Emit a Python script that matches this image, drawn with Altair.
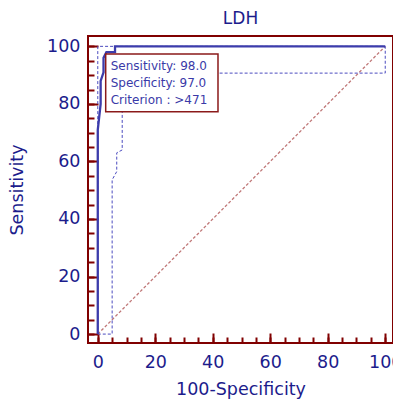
import altair as alt
import pandas as pd

# ---------------- data ----------------
chart_title = "LDH"
x_title = "100-Specificity"
y_title = "Sensitivity"

roc_x = [0, 0, 1, 1, 2, 2, 3, 6, 6, 100]
roc_y = [0, 71, 80, 88, 91, 96, 98, 98, 100, 100]

upper_x = [0, 0, 100]
upper_y = [0, 100, 100]

lower_x = [0, 5, 5, 6.6, 6.6, 8.5, 8.5, 12, 100, 100]
lower_y = [0, 0, 53.6, 56.5, 63, 64, 85, 90.7, 90.7, 100]

diag_x = [0, 100]
diag_y = [0, 100]

major_ticks = [0, 20, 40, 60, 80, 100]
minor_ticks = [0, 5, 10, 15, 20, 25, 30, 35, 40, 45, 50, 55, 60, 65, 70, 75, 80, 85, 90, 95, 100]

crit_sensitivity = 98.0
crit_specificity = 97.0
crit_criterion = ">471"

# ---------------- layout / style ----------------
plot_w, plot_h = 305, 307
x_dom = [-3.4, 102.7]
y_dom = [-3.1, 103.6]
FONT = "DejaVu Sans"
DARKRED = "#800000"
NAVY = "#1c1c8c"

xs = alt.Scale(domain=x_dom, nice=False, zero=False)
ys = alt.Scale(domain=y_dom, nice=False, zero=False)


def path_df(xv, yv):
    return pd.DataFrame({"x": xv, "y": yv, "i": list(range(len(xv)))})


# label axes (no ticks)
x_lab_axis = alt.Axis(orient="bottom", values=major_ticks, ticks=False, domain=False, grid=False,
                      labelPadding=10, title=x_title, titlePadding=10)
y_lab_axis = alt.Axis(orient="left", values=major_ticks, ticks=False, domain=False, grid=False,
                      labelPadding=8, title=y_title, titlePadding=20)

# inward major ticks
x_maj_axis = alt.Axis(orient="top", offset=-plot_h, values=major_ticks, labels=False, domain=False,
                      grid=False, ticks=True, tickSize=10, tickWidth=2, tickColor=DARKRED, title=None)
y_maj_axis = alt.Axis(orient="right", offset=-plot_w, values=major_ticks, labels=False, domain=False,
                      grid=False, ticks=True, tickSize=10, tickWidth=2, tickColor=DARKRED, title=None)
# inward minor ticks
x_min_axis = alt.Axis(orient="top", offset=-plot_h, values=minor_ticks, labels=False, domain=False,
                      grid=False, ticks=True, tickSize=6, tickWidth=2, tickColor=DARKRED, title=None)
y_min_axis = alt.Axis(orient="right", offset=-plot_w, values=minor_ticks, labels=False, domain=False,
                      grid=False, ticks=True, tickSize=6, tickWidth=2, tickColor=DARKRED, title=None)

diag = alt.Chart(path_df(diag_x, diag_y)).mark_line(
    color="#c07878", strokeWidth=1.3, strokeDash=[3, 2]
).encode(
    x=alt.X("x:Q", scale=xs, axis=x_lab_axis),
    y=alt.Y("y:Q", scale=ys, axis=y_lab_axis),
    order="i:Q",
)

lower = alt.Chart(path_df(lower_x, lower_y)).mark_line(
    color="#4b4bbf", strokeWidth=1, strokeDash=[3, 2]
).encode(
    x=alt.X("x:Q", scale=xs, axis=x_maj_axis),
    y=alt.Y("y:Q", scale=ys, axis=y_maj_axis),
    order="i:Q",
)

upper = alt.Chart(path_df(upper_x, upper_y)).mark_line(
    color="#4b4bbf", strokeWidth=1, strokeDash=[3, 2]
).encode(
    x=alt.X("x:Q", scale=xs, axis=x_min_axis),
    y=alt.Y("y:Q", scale=ys, axis=y_min_axis),
    order="i:Q",
)

roc = alt.Chart(path_df(roc_x, roc_y)).mark_line(
    color="#3c3cab", strokeWidth=2.3
).encode(
    x=alt.X("x:Q", scale=xs, axis=None),
    y=alt.Y("y:Q", scale=ys, axis=None),
    order="i:Q",
)

ann = pd.DataFrame({
    "x": [100 - crit_specificity],
    "y": [crit_sensitivity],
    "label": ["\n".join([
        f"Sensitivity: {crit_sensitivity:.1f}",
        f"Specificity: {crit_specificity:.1f}",
        f"Criterion : {crit_criterion}",
    ])],
})

box = alt.Chart(ann).mark_rect(
    fill="white", stroke="#8b1a1a", strokeWidth=1.5,
    xOffset=-0.7, x2Offset=111.6, yOffset=2, y2Offset=59.6,
).encode(
    x=alt.X("x:Q", scale=xs, axis=None),
    x2="x:Q",
    y=alt.Y("y:Q", scale=ys, axis=None),
    y2="y:Q",
)

txt = alt.Chart(ann).mark_text(
    align="left", baseline="alphabetic", dx=4.3, dy=17.9, lineBreak="\n", lineHeight=17.2,
    font=FONT, fontSize=12, color="#3a3aa8",
).encode(
    x=alt.X("x:Q", scale=xs, axis=None),
    y=alt.Y("y:Q", scale=ys, axis=None),
    text="label:N",
)

chart = alt.layer(diag, lower, upper, roc, box, txt).resolve_axis(
    x="independent", y="independent"
).properties(
    width=plot_w, height=plot_h,
    title=alt.TitleParams(chart_title, frame="group", anchor="middle", baseline="alphabetic",
                          offset=0, dy=4.7, font=FONT, fontSize=17, fontWeight="normal", color=NAVY),
    autosize=alt.AutoSizeParams(type="none"),
    padding={"left": 80, "top": 28, "right": 0, "bottom": 60},
).configure_view(
    stroke=DARKRED, strokeWidth=2
).configure_axis(
    labelFont=FONT, labelFontSize=17.5, labelColor=NAVY,
    titleFont=FONT, titleFontSize=17.5, titleColor=NAVY, titleFontWeight="normal",
)

chart.save("out.html", embed_options={"renderer": "svg", "actions": False})
